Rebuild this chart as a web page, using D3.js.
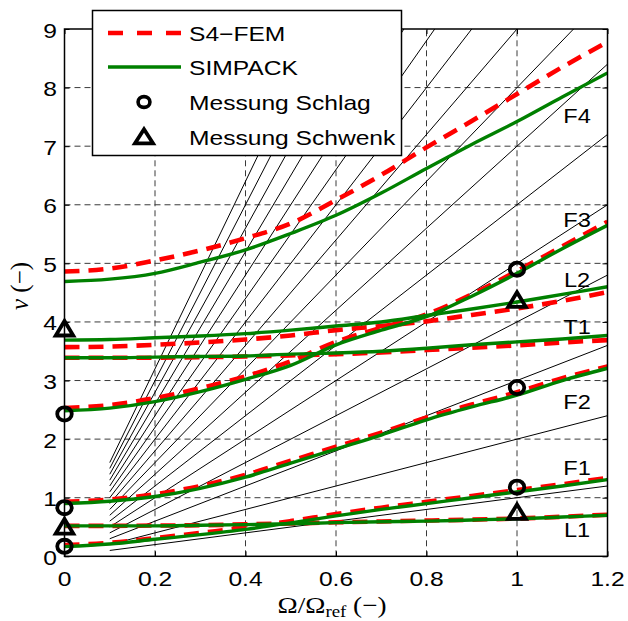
<!DOCTYPE html>
<html><head><meta charset="utf-8">
<script src="https://cdn.jsdelivr.net/npm/d3@7"></script>
<style>body{margin:0;background:#fff}</style>
</head><body><svg id="c" width="628" height="621"></svg>
<script>
// ---- data ----
const omega = [0, 0.1, 0.2, 0.3, 0.4, 0.5, 0.6, 0.7, 0.8, 0.9, 1.0, 1.1, 1.2];
// S4-FEM (red dashed)
const femF1 = [0.19, 0.23, 0.31, 0.40, 0.49, 0.60, 0.72, 0.83, 0.93, 1.03, 1.13, 1.23, 1.34];
const femL1 = [0.52, 0.52, 0.525, 0.53, 0.545, 0.56, 0.58, 0.595, 0.61, 0.625, 0.645, 0.675, 0.71];
const femF2 = [0.93, 0.97, 1.06, 1.20, 1.39, 1.63, 1.87, 2.11, 2.37, 2.59, 2.80, 3.04, 3.24];
const femF3 = [2.53, 2.58, 2.70, 2.87, 3.07, 3.33, 3.66, 3.90, 4.13, 4.47, 4.87, 5.29, 5.71];
const femT1 = [3.39, 3.39, 3.39, 3.40, 3.41, 3.43, 3.45, 3.48, 3.52, 3.56, 3.60, 3.65, 3.69];
const femL2 = [3.57, 3.58, 3.61, 3.65, 3.70, 3.77, 3.86, 3.93, 4.01, 4.12, 4.23, 4.36, 4.51];
const femF4 = [4.86, 4.91, 5.05, 5.22, 5.43, 5.68, 6.08, 6.51, 6.98, 7.43, 7.89, 8.35, 8.78];
// SIMPACK (green solid)
const simF1 = [0.165, 0.21, 0.29, 0.37, 0.46, 0.57, 0.69, 0.80, 0.90, 1.00, 1.10, 1.20, 1.31];
const simL1 = [0.52, 0.52, 0.52, 0.53, 0.54, 0.555, 0.575, 0.59, 0.60, 0.62, 0.64, 0.67, 0.70];
const simF2 = [0.90, 0.94, 1.02, 1.16, 1.35, 1.59, 1.83, 2.07, 2.33, 2.55, 2.75, 3.00, 3.21];
const simF3 = [2.485, 2.53, 2.64, 2.81, 3.02, 3.26, 3.61, 3.86, 4.09, 4.44, 4.83, 5.25, 5.65];
const simT1 = [3.39, 3.39, 3.40, 3.41, 3.42, 3.45, 3.47, 3.50, 3.55, 3.61, 3.66, 3.71, 3.77];
const simL2 = [3.69, 3.70, 3.73, 3.76, 3.80, 3.86, 3.93, 4.00, 4.11, 4.22, 4.34, 4.47, 4.60];
const simF4 = [4.69, 4.73, 4.83, 5.02, 5.23, 5.51, 5.82, 6.20, 6.62, 7.03, 7.42, 7.84, 8.25];
// measurements
const schlagX = [0, 0, 0, 1, 1, 1];
const schlagY = [0.17, 0.83, 2.43, 1.18, 2.88, 4.90];
const schwenkX = [0, 0, 1, 1];
const schwenkY = [0.50, 3.88, 0.75, 4.37];
// engine orders (rays nu = k * Omega)
const orders = [1,2,3,4,5,6,7,8,9,10,11,12,13,14,15,16];
const rayStart = 0.1;
// mode labels
const modeLabels = ["F4", "F3", "L2", "T1", "F2", "F1", "L1"];
const modeLabelY = [7.53, 5.74, 4.73, 3.93, 2.65, 1.51, 0.45];
const xTicks = [0, 0.2, 0.4, 0.6, 0.8, 1, 1.2];
const yTicks = [0,1,2,3,4,5,6,7,8,9];
const legendLabels = ["S4\u2212FEM", "SIMPACK", "Messung Schlag", "Messung Schwenk"];

// ---- layout ----
const svg = d3.select("#c");
const L = 64.5, R = 607.5, T = 29, B = 556.3;
const x = d3.scaleLinear().domain([0, 1.2]).range([L, R]);
const y = d3.scaleLinear().domain([0, 9]).range([B, T]);
const SX = 1.2;
const sans = "'Liberation Sans', Arial, Helvetica, sans-serif";
const serif = "'Liberation Serif', 'Times New Roman', serif";

function stext(px, py, str, anchor, size, sx) {
  const g = svg.append("g").attr("transform", `translate(${px},${py}) scale(${sx},1)`);
  return g.append("text").attr("x", 0).attr("y", 0).attr("text-anchor", anchor)
    .attr("font-family", sans).attr("font-size", size).attr("fill", "#000").text(str);
}

svg.append("defs").append("clipPath").attr("id", "clip")
  .append("rect").attr("x", L).attr("y", T).attr("width", R - L).attr("height", B - T);

// grid
const grid = svg.append("g").attr("stroke", "#3a3a3a").attr("stroke-width", 1).attr("stroke-dasharray", "6,4");
xTicks.slice(1, -1).forEach(t => grid.append("line").attr("x1", x(t)).attr("x2", x(t)).attr("y1", B).attr("y2", T));
yTicks.slice(1, -1).forEach(t => grid.append("line").attr("x1", L).attr("x2", R).attr("y1", y(t)).attr("y2", y(t)));

const plot = svg.append("g").attr("clip-path", "url(#clip)");
// rays
orders.forEach(k => {
  const xe = Math.min(1.2, 9 / k);
  plot.append("line").attr("x1", x(rayStart)).attr("y1", y(k * rayStart))
    .attr("x2", x(xe)).attr("y2", y(k * xe)).attr("stroke", "#000").attr("stroke-width", 1);
});

const line = d3.line().x((d, i) => x(omega[i])).y(d => y(d)).curve(d3.curveMonotoneX);
const fem = [femF1, femL1, femF2, femF3, femT1, femL2, femF4];
const sim = [simF1, simL1, simF2, simF3, simT1, simL2, simF4];
fem.forEach(s => plot.append("path").attr("d", line(s)).attr("fill", "none")
  .attr("stroke", "#ff0000").attr("stroke-width", 4.6).attr("stroke-dasharray", "15,9"));
sim.forEach(s => plot.append("path").attr("d", line(s)).attr("fill", "none")
  .attr("stroke", "#008000").attr("stroke-width", 3.4));

// axes box + ticks
const axisG = svg.append("g");
axisG.append("g").attr("transform", `translate(0,${B})`)
  .call(d3.axisBottom(x).tickValues(xTicks).tickSize(-5).tickFormat(""))
  .call(g => g.select(".domain").remove());
axisG.append("g").attr("transform", `translate(0,${T})`)
  .call(d3.axisTop(x).tickValues(xTicks).tickSize(-5).tickFormat(""))
  .call(g => g.select(".domain").remove());
axisG.append("g").attr("transform", `translate(${L},0)`)
  .call(d3.axisLeft(y).tickValues(yTicks).tickSize(-5).tickFormat(""))
  .call(g => g.select(".domain").remove());
axisG.append("g").attr("transform", `translate(${R},0)`)
  .call(d3.axisRight(y).tickValues(yTicks).tickSize(-5).tickFormat(""))
  .call(g => g.select(".domain").remove());
axisG.selectAll(".tick line").attr("stroke", "#000").attr("stroke-width", 1);
svg.append("rect").attr("x", L).attr("y", T).attr("width", R - L).attr("height", B - T)
  .attr("fill", "none").attr("stroke", "#000").attr("stroke-width", 1.5);

// tick labels
xTicks.forEach(t => stext(x(t), 586, d3.format("~g")(t), "middle", 20.5, SX));
yTicks.forEach(t => stext(57, y(t) + 8.5, String(t), "end", 20.5, SX));

// markers
function circ(g, cx, cy, r, sw) {
  g.append("ellipse").attr("cx", cx).attr("cy", cy).attr("rx", r * 1.1).attr("ry", r)
    .attr("fill", "none").attr("stroke", "#000").attr("stroke-width", sw);
}
function tri(g, cx, cy, w, h, sw) {
  g.append("path").attr("d", `M${cx},${cy - h * 0.55}L${cx + w / 2},${cy + h * 0.45}L${cx - w / 2},${cy + h * 0.45}Z`)
    .attr("fill", "none").attr("stroke", "#000").attr("stroke-width", sw).attr("stroke-linejoin", "miter");
}
const mk = svg.append("g");
schlagX.forEach((v, i) => circ(mk, x(v), y(schlagY[i]), 6.6, 3.8));
schwenkX.forEach((v, i) => tri(mk, x(v), y(schwenkY[i]), 17.5, 14.5, 3.8));

// mode labels
modeLabels.forEach((s, i) => stext(577, y(modeLabelY[i]) + 7.5, s, "middle", 20.5, 1.15));

// legend
const lg = svg.append("g");
lg.append("rect").attr("x", 92.5).attr("y", 10.5).attr("width", 309).attr("height", 145)
  .attr("fill", "#fff").attr("stroke", "#000").attr("stroke-width", 1.5);
const ly = [33, 67, 102, 137];
lg.append("line").attr("x1", 108).attr("x2", 181).attr("y1", ly[0]).attr("y2", ly[0])
  .attr("stroke", "#ff0000").attr("stroke-width", 4.6).attr("stroke-dasharray", "15,14");
lg.append("line").attr("x1", 108).attr("x2", 181).attr("y1", ly[1]).attr("y2", ly[1])
  .attr("stroke", "#008000").attr("stroke-width", 3.4);
circ(lg, 144, ly[2], 5.4, 3.6);
tri(lg, 144, ly[3], 18, 14, 3.8);
legendLabels.forEach((s, i) => stext(189, ly[i] + 7.5, s, "start", 20.5, SX));

// axis titles
const xl = svg.append("g").attr("transform", "translate(332,613) scale(1.18,1)")
  .append("text").attr("text-anchor", "middle").attr("font-family", serif).attr("font-size", 23);
xl.append("tspan").text("\u03A9/\u03A9");
xl.append("tspan").attr("font-size", 16).attr("dy", 4).text("ref");
xl.append("tspan").attr("dy", -4).text(" (\u2212)");

const yl = svg.append("text").attr("transform", "translate(28,286) rotate(-90)")
  .attr("text-anchor", "middle").attr("font-family", serif).attr("font-size", 25);
yl.append("tspan").attr("font-style", "italic").text("\u03BD");
yl.append("tspan").text(" (\u2212)");
</script></body></html>
